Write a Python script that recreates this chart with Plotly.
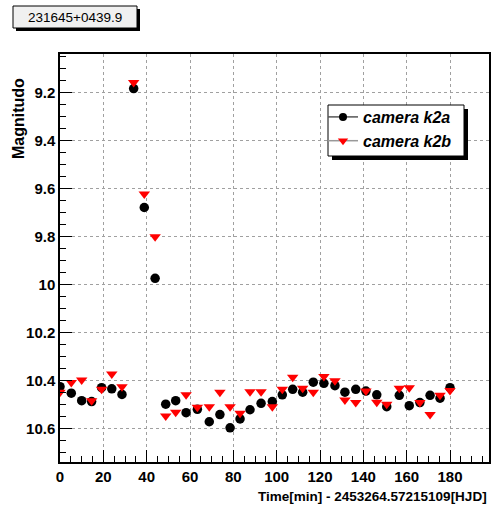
import plotly.graph_objects as go

# Data
time_min = [0.0, 5.2, 10.0, 14.6, 19.2, 23.9, 28.6, 34.0, 38.9, 43.9, 48.8, 53.4, 58.2,
            63.4, 68.9, 73.8, 78.5, 83.1, 87.7, 92.8, 98.0, 102.6, 107.4, 112.0, 116.9,
            121.8, 126.9, 131.5, 136.5, 141.2, 146.2, 150.8, 156.6, 161.2, 166.1, 170.8,
            175.4, 180.0]
mag_k2a = [10.424, 10.451, 10.482, 10.486, 10.428, 10.433, 10.456, 9.183, 9.678, 9.973,
           10.497, 10.482, 10.532, 10.518, 10.570, 10.540, 10.595, 10.558, 10.520, 10.493,
           10.486, 10.458, 10.435, 10.447, 10.405, 10.410, 10.420, 10.447, 10.435, 10.442,
           10.458, 10.507, 10.460, 10.503, 10.490, 10.460, 10.472, 10.428]
mag_k2b = [10.447, 10.407, 10.396, 10.482, 10.435, 10.371, 10.424, 9.158, 9.622, 9.800,
           10.546, 10.530, 10.458, 10.510, 10.507, 10.447, 10.507, 10.535, 10.445, 10.445,
           10.507, 10.435, 10.385, 10.430, 10.447, 10.382, 10.399, 10.479, 10.490, 10.442,
           10.489, 10.497, 10.430, 10.428, 10.490, 10.540, 10.460, 10.440]
series_names = ["camera k2a", "camera k2b"]
title_text = "231645+0439.9"
x_title = "Time[min] - 2453264.57215109[HJD]"
y_title = "Magnitudo"

SANS = "Liberation Sans, Arial, Helvetica, sans-serif"

fig = go.Figure()
fig.add_trace(go.Scatter(x=time_min, y=mag_k2a, mode="markers", showlegend=False,
                         marker=dict(symbol="circle", size=9.5, color="black")))
fig.add_trace(go.Scatter(x=time_min, y=mag_k2b, mode="markers", showlegend=False,
                         marker=dict(symbol="triangle-down", size=10, color="#ff0000")))
# legend-only entries (line + marker like ROOT "lp")
fig.add_trace(go.Scatter(x=[None], y=[None], mode="lines+markers", name=series_names[0],
                         line=dict(color="#555555", width=1.5),
                         marker=dict(symbol="circle", size=8, color="black")))
fig.add_trace(go.Scatter(x=[None], y=[None], mode="lines+markers", name=series_names[1],
                         line=dict(color="#999999", width=1.5),
                         marker=dict(symbol="triangle-down", size=9, color="#ff0000")))

L, R, T, B = 60, 5, 54, 49
W, H = 494, 511
pw, ph = W - L - R, H - T - B

def px(x):
    return (x - L) / pw

def py(y):
    return (H - B - y) / ph

shapes = [
    # title box shadow + box
    dict(type="rect", xref="paper", yref="paper", x0=px(16), x1=px(140), y0=py(31), y1=py(9),
         fillcolor="black", line=dict(width=0), layer="above"),
    dict(type="rect", xref="paper", yref="paper", x0=px(13), x1=px(137), y0=py(28), y1=py(6),
         fillcolor="#f0f0f0", line=dict(color="black", width=1), layer="above"),
    # legend shadow + box
    dict(type="rect", xref="paper", yref="paper", x0=px(332), x1=px(468), y0=py(160), y1=py(109),
         fillcolor="black", line=dict(width=0), layer="above"),
    dict(type="rect", xref="paper", yref="paper", x0=px(328), x1=px(464), y0=py(156), y1=py(105),
         fillcolor="white", line=dict(color="black", width=1), layer="above"),
]

annotations = [
    dict(text=title_text, xref="paper", yref="paper", x=px(75), y=py(17), showarrow=False,
         xanchor="center", yanchor="middle", font=dict(family=SANS, size=13.5, color="black")),
    dict(text="<b>" + y_title + "</b>", xref="paper", yref="paper", x=px(18), y=py(119),
         textangle=-90, showarrow=False, xanchor="center", yanchor="middle",
         font=dict(family=SANS, size=16, color="black")),
    dict(text="<b>" + x_title + "</b>", xref="paper", yref="paper", x=1.0, y=py(497),
         showarrow=False, xanchor="right", yanchor="middle",
         font=dict(family=SANS, size=13.5, color="black")),
]

axis_common = dict(
    showline=True, linecolor="black", linewidth=1.5, mirror=True,
    ticks="inside", ticklen=12, tickcolor="black", tickwidth=1,
    showgrid=True, gridcolor="#a0a0a0", griddash="dot", gridwidth=1,
    zeroline=False,
    tickfont=dict(family=SANS, size=15, color="black", weight="bold"),
)

fig.update_xaxes(range=[0, 198], dtick=20, tick0=0,
                 minor=dict(dtick=5, ticklen=6, ticks="inside", tickcolor="black", showgrid=False),
                 **axis_common)
fig.update_yaxes(range=[10.7375, 9.039], dtick=0.2, tick0=9.0,
                 minor=dict(dtick=0.05, ticklen=6, ticks="inside", tickcolor="black", showgrid=False),
                 **axis_common)

fig.update_layout(
    width=W, height=H,
    margin=dict(l=L, r=R, t=T, b=B, autoexpand=False),
    paper_bgcolor="white", plot_bgcolor="white",
    shapes=shapes, annotations=annotations,
    legend=dict(x=px(323), y=py(100), xanchor="left", yanchor="top",
                bgcolor="rgba(0,0,0,0)", borderwidth=0,
                font=dict(family=SANS, size=16, color="black",
                          style="italic", weight="bold"),
                itemwidth=30, tracegroupgap=0),
    showlegend=True,
)

fig.write_html("out.html", config={"displayModeBar": False},
               post_script="document.body.style.margin='0';")
